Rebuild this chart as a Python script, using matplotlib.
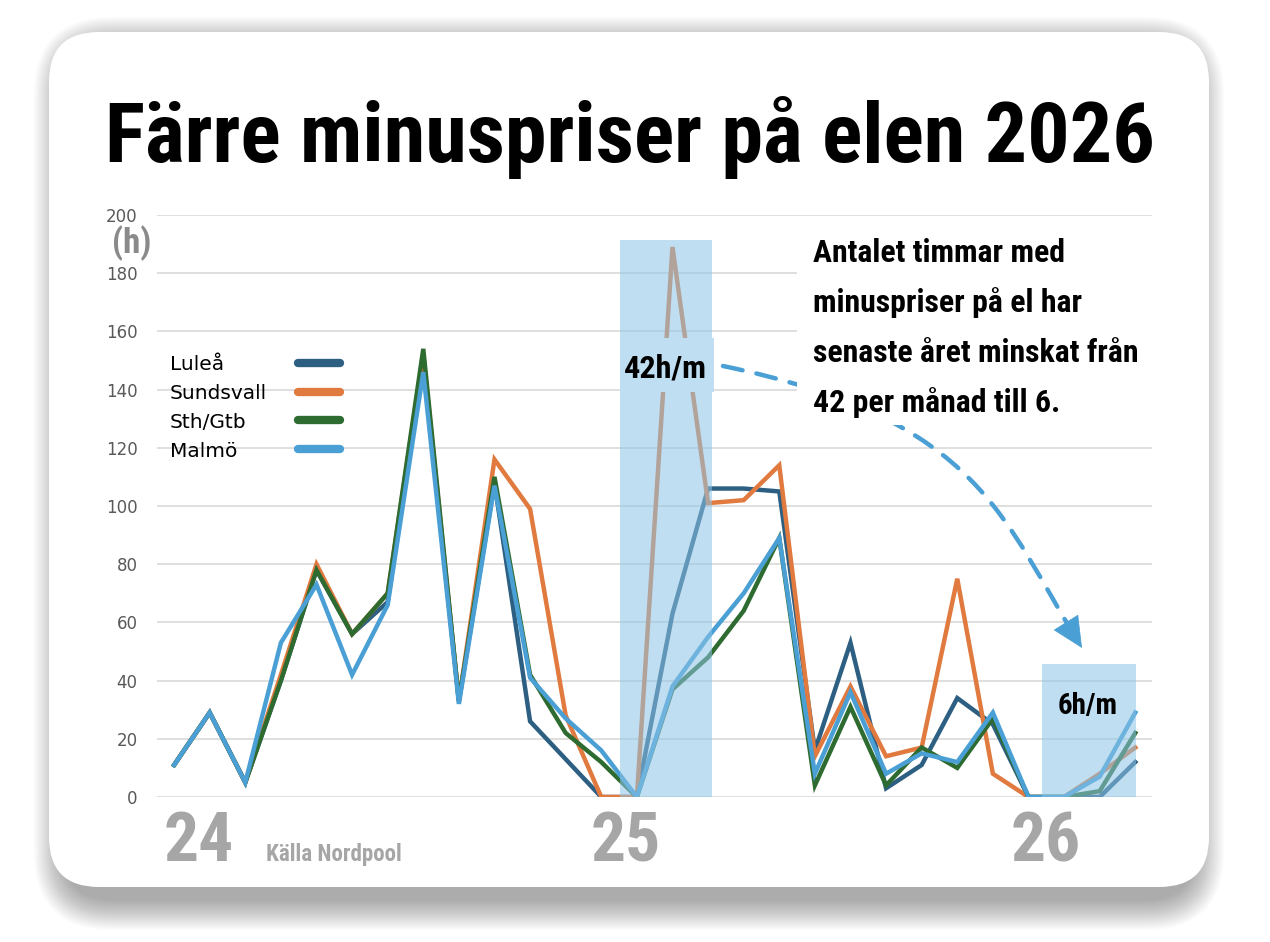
import matplotlib
matplotlib.use('Agg')
import matplotlib.pyplot as plt
from matplotlib import font_manager as fm
from matplotlib.patches import FancyBboxPatch, Rectangle, FancyArrowPatch
from matplotlib.path import Path

# hours with negative price per month
series = ['Luleå', 'Sundsvall', 'Sth/Gtb', 'Malmö']
lulea = [11, 29, 5, 40, 78, 56, 67, 150, 33, 108, 26, 13, 0, 0,
         63, 106, 106, 105, 16, 53, 3, 11, 34, 25, 0, 0, 0, 12]
sundsvall = [11, 29, 5, 42, 80, 56, 70, 152, 33, 116, 99, 28, 0, 0,
             189, 101, 102, 114, 14, 38, 14, 17, 75, 8, 0, 0, 8, 17]
sthgtb = [11, 29, 5, 40, 78, 56, 70, 154, 33, 110, 42, 22, 12, 0,
          37, 48, 64, 89, 4, 31, 4, 17, 10, 27, 0, 0, 2, 22]
malmo = [11, 29, 5, 53, 73, 42, 66, 146, 32, 107, 41, 27, 16, 0,
         38, 55, 70, 89, 8, 36, 8, 15, 12, 29, 0, 0, 7, 29]
colors = ['#2D5F82', '#E07A3F', '#2E6B30', '#4A9FD5']

years = ['24', '25', '26']
year_pos = [0.7, 12.7, 24.5]

# highlighted periods
box_x0 = [12.53, 24.38]
box_x1 = [15.11, 27.02]
box_top = [191.4, 45.7]
box_labels = ['42h/m', '6h/m']

title = 'Färre minuspriser på elen 2026'
note = ['Antalet timmar med', 'minuspriser på el har',
        'senaste året minskat från', '42 per månad till 6.']

W, H = 1270, 942
names = {f.name for f in fm.fontManager.ttflist}
COND = 'DejaVu Sans'
for cand in ['Roboto Condensed', 'Liberation Sans Narrow', 'Open Sans Condensed']:
    if cand in names:
        COND = cand
        break
cond = dict(family=COND, fontweight='bold', fontstretch='condensed')
BOXC = '#8CC4E6'
BOXMIX = '#C0DEF1'   # box colour as it looks on white

fig = plt.figure(figsize=(W / 100, H / 100), dpi=100)
fig.patch.set_facecolor('white')

# background layer in pixel coords: shadow + card
bg = fig.add_axes([0, 0, 1, 1], zorder=0)
bg.set_xlim(0, W)
bg.set_ylim(H, 0)
bg.axis('off')
cx0, cy0, cx1, cy1 = 49, 32, 1209, 887
for k in range(18):
    g = 1.7 * k
    bg.add_patch(FancyBboxPatch((cx0 + 14 - g, cy0 + 14 - g), cx1 - cx0 - 28 + 2 * g,
                                cy1 - cy0 + 2 * g,
                                boxstyle='round,pad=0,rounding_size=%d' % (50 + g),
                                fc='black', ec='none', alpha=0.018))
bg.add_patch(FancyBboxPatch((cx0, cy0), cx1 - cx0, cy1 - cy0,
                            boxstyle='round,pad=0,rounding_size=50',
                            fc='white', ec='none'))

# chart
ax = fig.add_axes([157 / W, 1 - 797 / H, 995 / W, 582 / H], zorder=2)
ax.patch.set_alpha(0)
x = list(range(len(malmo)))
for name, vals, c in zip(series, [lulea, sundsvall, sthgtb, malmo], colors):
    ax.plot(x, vals, color=c, lw=3.2, solid_joinstyle='miter', zorder=3)

for x0, x1, top_ in zip(box_x0, box_x1, box_top):
    ax.add_patch(Rectangle((x0, 0), x1 - x0, top_, fc=BOXC, ec='none',
                           alpha=0.55, zorder=4))

ax.set_xlim(-0.48, 27.47)
ax.set_ylim(0, 200)
ax.set_yticks(range(0, 201, 20))
ax.set_xticks([])
ax.grid(axis='y', color='#D9D9D9', lw=1.2)
ax.set_axisbelow(True)
for s in ax.spines.values():
    s.set_visible(False)
ax.tick_params(axis='y', length=0, pad=14, labelsize=12, labelcolor='#595959')

r = fig.canvas.get_renderer()


def fit(t, width):
    w = t.get_window_extent(r).width
    t.set_fontsize(t.get_fontsize() * width / w)


# opaque label plate inside the first highlight
ax.add_patch(Rectangle((box_x0[0], 139.2), 15.17 - box_x0[0], 18.5, fc=BOXMIX,
                       ec='none', zorder=5))
t42 = ax.text(13.81, 144.3, box_labels[0], ha='center', va='baseline', fontsize=20,
              color='black', zorder=6, **cond)
fit(t42, 83)
t6 = ax.text(25.67, 28.6, box_labels[1], ha='center', va='baseline', fontsize=20,
             color='black', zorder=6, **cond)
fit(t6, 60)

# overlay in pixel coords: legend, arrow, note, labels
top = fig.add_axes([0, 0, 1, 1], zorder=5)
top.set_xlim(0, W)
top.set_ylim(H, 0)
top.axis('off')
top.patch.set_alpha(0)

for i, (name, c) in enumerate(zip(series, colors)):
    yc = 363 + 28.7 * i
    top.text(170, yc + 7.5, name, ha='left', va='baseline', fontsize=14.5,
             color='black')
    top.plot([298, 340], [yc, yc], color=c, lw=6, solid_capstyle='round')

arc = Path([(723, 366), (983, 420), (1002, 520), (1082, 648)],
           [Path.MOVETO, Path.CURVE4, Path.CURVE4, Path.CURVE4])
top.add_patch(FancyArrowPatch(path=arc, arrowstyle='-', color='#4A9FD5', lw=3.2,
                              linestyle=(0, (4.5, 3.2)), zorder=1))
top.add_patch(FancyArrowPatch((1071, 630.5), (1082, 648),
                              arrowstyle='-|>,head_length=1.05,head_width=0.5',
                              mutation_scale=20, color='#4A9FD5', lw=0.5,
                              shrinkA=0, shrinkB=0, zorder=1))
top.add_patch(Rectangle((797, 222), 370, 203, fc='white', ec='none', zorder=2))

note_t = []
for i, line in enumerate(note):
    note_t.append(top.text(813, 262 + 50 * i, line, ha='left', va='baseline',
                           fontsize=20, color='black', zorder=3, **cond))
scale = 324 / note_t[2].get_window_extent(r).width
for t in note_t:
    t.set_fontsize(20 * scale)

tt = top.text(630, 162, title, ha='center', va='baseline', fontsize=50,
              color='black', **cond)
fit(tt, 1050)

top.text(112, 253, '(h)', ha='left', va='baseline', fontsize=25,
         color='#8A8A8A', **cond)

for lab, xp in zip(years, year_pos):
    px = 174 + 35.6 * xp
    top.text(px, 861, lab, ha='center', va='baseline', fontsize=50,
             color='#A6A6A6', **cond)
tk = top.text(266, 861, 'Källa Nordpool', ha='left', va='baseline', fontsize=14,
              color='#A6A6A6', **cond)
fit(tk, 136)

fig.savefig('out.png', dpi=100, facecolor='white')
